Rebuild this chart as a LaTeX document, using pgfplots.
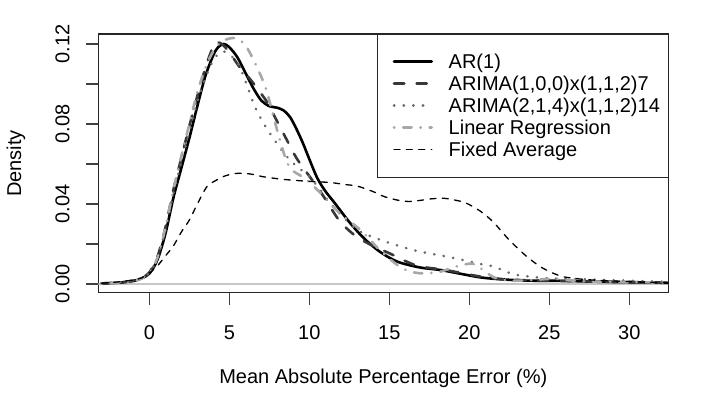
\documentclass[border=0pt]{standalone}
\usepackage{fontspec}
\setmainfont{Liberation Sans}
\usepackage{pgfplots}
\pgfplotsset{compat=1.18}
\definecolor{cArimaA}{gray}{0.22}
\definecolor{cArimaB}{gray}{0.42}
\definecolor{cLR}{gray}{0.66}
\definecolor{cZero}{gray}{0.78}
\pgfplotstableread{
x y
-3.0 0.0003
-2.0 0.0006
-1.0 0.0015
-0.5 0.0028
0.0 0.0052
0.5 0.012
1.0 0.025
1.5 0.043
2.0 0.058
2.5 0.073
3.0 0.089
3.5 0.104
4.0 0.1145
4.3 0.1185
4.65 0.1201
5.0 0.1185
5.5 0.1135
6.0 0.1058
6.5 0.098
7.0 0.0918
7.5 0.0890
8.0 0.0882
8.4 0.0868
8.8 0.0835
9.2 0.0775
9.6 0.0705
10.0 0.0625
10.5 0.053
11.0 0.0465
11.6 0.0404
12.5 0.0310
13.4 0.0230
14.4 0.0162
15.5 0.0112
16.9 0.0083
18.2 0.0070
19.4 0.0052
20.7 0.0033
21.9 0.0024
23.6 0.0017
25.7 0.0016
27.7 0.0012
30.0 0.0009
32.4 0.0006
}\tabAR
\pgfplotstableread{
x y
-3.0 0.0003
-2.0 0.0007
-1.0 0.0017
-0.5 0.003
0.0 0.0058
0.5 0.0135
1.0 0.028
1.5 0.047
2.0 0.063
2.5 0.079
3.0 0.094
3.5 0.108
3.8 0.115
4.1 0.1207
4.5 0.1203
5.0 0.1160
5.6 0.1090
6.3 0.1025
6.9 0.0962
7.4 0.0905
8.0 0.0812
8.6 0.0720
9.2 0.0630
10.0 0.0540
10.5 0.0485
11.0 0.0425
11.9 0.0315
12.9 0.0240
14.0 0.0190
15.0 0.0154
16.0 0.0115
16.9 0.0088
18.5 0.0070
20.7 0.0037
22.0 0.0025
24.0 0.0017
26.0 0.0015
28.0 0.0012
30.0 0.0010
32.4 0.0007
}\tabArimaA
\pgfplotstableread{
x y
-3.0 0.0003
-2.0 0.0007
-1.0 0.0016
-0.5 0.003
0.0 0.0055
0.5 0.013
1.0 0.027
1.5 0.045
2.0 0.061
2.5 0.076
3.0 0.091
3.5 0.103
4.0 0.112
4.5 0.1163
5.0 0.1150
5.6 0.1095
6.1 0.0995
6.6 0.0887
7.2 0.0796
8.0 0.0700
8.6 0.0637
9.2 0.0590
10.0 0.0537
10.7 0.0470
11.3 0.0404
12.3 0.0320
13.0 0.0270
14.4 0.0222
16.5 0.0170
18.6 0.0137
19.6 0.0120
20.7 0.0100
21.5 0.0088
22.3 0.0062
23.0 0.0045
24.8 0.0029
26.7 0.0025
29.8 0.0017
32.4 0.0011
}\tabArimaB
\pgfplotstableread{
x y
-3.0 0.0002
-2.0 0.0005
-1.0 0.0014
-0.5 0.0027
0.0 0.0055
0.5 0.013
1.0 0.028
1.5 0.047
2.0 0.064
2.5 0.080
3.0 0.096
3.5 0.108
4.0 0.1165
4.5 0.1212
5.0 0.1228
5.4 0.1230
5.9 0.1205
6.3 0.1155
6.9 0.1055
7.35 0.0962
7.75 0.0840
8.2 0.0710
8.6 0.0610
9.0 0.0565
9.4 0.0545
10.0 0.0510
10.7 0.0455
11.9 0.0354
13.2 0.0270
14.4 0.0170
15.5 0.0095
16.2 0.0065
16.9 0.0054
17.6 0.0055
18.2 0.0062
19.4 0.0092
20.2 0.0102
20.7 0.0080
21.5 0.0035
22.5 0.0017
24.0 0.0020
25.2 0.0027
26.0 0.0020
27.7 0.0012
30.0 0.0010
32.4 0.0006
}\tabLR
\pgfplotstableread{
x y
-3.0 0.0004
-2.0 0.0010
-1.0 0.0020
-0.5 0.0030
0.0 0.0055
0.5 0.0090
1.0 0.0140
1.5 0.0190
2.0 0.0260
2.5 0.0320
3.0 0.0400
3.6 0.0487
4.2 0.0520
4.7 0.0540
5.3 0.0552
5.9 0.0554
6.5 0.0548
7.1 0.0537
8.2 0.0525
9.2 0.0518
10.3 0.0512
11.3 0.0508
12.3 0.0497
13.0 0.0490
14.0 0.0462
14.7 0.0437
15.5 0.0420
16.2 0.0413
16.9 0.0418
17.6 0.0426
18.4 0.0429
19.1 0.0420
19.8 0.0405
20.7 0.0364
21.5 0.0310
22.5 0.0220
23.6 0.0137
24.6 0.0079
25.7 0.0040
26.6 0.0028
27.7 0.0020
30.0 0.0012
32.4 0.0006
}\tabFA
\tikzset{
  sAR/.style={black, line width=1.3bp, line cap=round},
  sArimaA/.style={cArimaA, line width=1.3bp, line cap=round, dash pattern=on 5.1bp off 6.2bp},
  sArimaB/.style={cArimaB, line width=1.3bp, line cap=round, dash pattern=on 0.2bp off 4.6bp},
  sLR/.style={cLR, line width=1.3bp, line cap=round, dash pattern=on 0.2bp off 4.4bp on 4.2bp off 4.4bp},
  sFA/.style={black, line width=0.65bp, line cap=round, dash pattern=on 3.0bp off 3.2bp},
  legtext/.style={anchor=base west, inner sep=0pt, yshift=-3.58bp, font=\fontsize{10bp}{12bp}\selectfont},
}
\begin{document}
\fontsize{10bp}{12bp}\selectfont
\begin{tikzpicture}
\useasboundingbox (0,0) rectangle (360bp,202bp);
\begin{axis}[
  at={(49.15bp,55.65bp)}, anchor=south west,
  scale only axis, width=285bp, height=129.35bp,
  xmin=-3.19, xmax=32.44, ymin=-0.00435, ymax=0.1251,
  axis line style={line width=0.7bp, black!85},
  every tick/.style={line width=0.7bp, black!75},
  tick align=outside, major tick length=6.15bp,
  xtick pos=bottom, ytick pos=left,
  xtick={0,5,10,15,20,25,30}, xticklabels={0,5,10,15,20,25,30},
  ytick={0,0.02,0.04,0.06,0.08,0.10,0.12},
  yticklabels={0.00,,0.04,,0.08,,0.12},
  /pgf/number format/assume math mode=true,
  tick label style={font=\fontsize{10bp}{12bp}\selectfont},
  xticklabel style={anchor=north, inner sep=0pt},
  yticklabel style={rotate=90, anchor=south, inner sep=0pt},
  xticklabel shift=10bp, yticklabel shift=8bp,
  xlabel={Mean Absolute Percentage Error (\%)},
  ylabel={Density},
  label style={font=\fontsize{10bp}{12bp}\selectfont},
  xlabel style={at={(axis description cs:0.5,-0.3297)}, anchor=center, inner sep=0pt},
  ylabel style={at={(axis description cs:-0.1444,0.5)}, anchor=center, inner sep=0pt},
]
\addplot[cZero, line width=0.6bp] coordinates {(-3.19,0) (32.44,0)};
\addplot[sAR, smooth] table {\tabAR};
\addplot[sArimaA, smooth] table {\tabArimaA};
\addplot[sArimaB, smooth] table {\tabArimaB};
\addplot[sLR, smooth] table {\tabLR};
\addplot[sFA, smooth] table {\tabFA};
\end{axis}
% legend (box at top right of the plot region)
\draw[black!85, line width=0.7bp, fill=white] (188.65bp,113.35bp) rectangle (334.15bp,185bp);
\draw[sAR]     (197bp,171.15bp) -- (215.85bp,171.15bp);
\draw[sArimaA] (197bp,160.2bp)  -- (215.85bp,160.2bp);
\draw[sArimaB] (197bp,149.25bp) -- (215.85bp,149.25bp);
\draw[sLR]     (197bp,138.3bp)  -- (215.85bp,138.3bp);
\draw[sFA]     (197bp,127.35bp) -- (215.85bp,127.35bp);
\node[legtext] at (224.15bp,171.15bp) {AR(1)};
\node[legtext] at (224.15bp,160.2bp)  {ARIMA(1,0,0)x(1,1,2)7};
\node[legtext] at (224.15bp,149.25bp) {ARIMA(2,1,4)x(1,1,2)14};
\node[legtext] at (224.15bp,138.3bp)  {Linear Regression};
\node[legtext] at (224.15bp,127.35bp) {Fixed Average};
\end{tikzpicture}
\end{document}
